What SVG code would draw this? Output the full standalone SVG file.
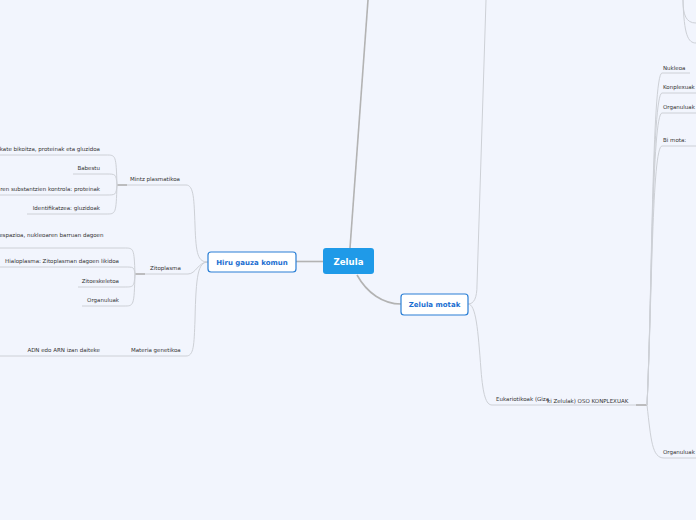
<svg xmlns="http://www.w3.org/2000/svg" width="696" height="520" viewBox="0 0 696 520">
<style>
.bg{fill:#f2f5fd}
.c{fill:none;stroke:#cdd0d6;stroke-width:1}
.cm{fill:none;stroke:#b3b3b3;stroke-width:1.6}
.t{font-family:"DejaVu Sans",Verdana,sans-serif;font-size:5.5px;fill:#333}
.nb{fill:#fff;stroke:#2a7fd6;stroke-width:1.2}
.nt{font-family:"DejaVu Sans",Verdana,sans-serif;font-size:7px;font-weight:bold;fill:#1b6ed1;text-anchor:middle}
.r{text-anchor:end}
</style>
<rect class="bg" x="0" y="0" width="696" height="520"/>
<g id="connectors">
<path class="cm" d="M350,248 L368,0"/>
<path class="cm" d="M296,261.5 L323,261.5"/>
<path class="cm" d="M357,275 C367,293 383,304 401,304"/>
<path class="c" d="M468,304 C474,304 477,298 477,285 L486,0"/>
<path class="c" d="M468,304 C476,304 478,330 481,370 C483,395 486,405 492,405 L647,405"/>
<path class="cm" d="M636,405 L647,405"/>
<path class="c" d="M647,405 C652,300 652,73 662,73 L690,73"/>
<path class="c" d="M647,405 C652,300 652,93 662,93 L696,93"/>
<path class="c" d="M647,405 C652,300 652,113 662,113 L696,113"/>
<path class="c" d="M647,405 C652,300 652,146 662,146 L696,146"/>
<path class="c" d="M647,405 C651,440 652,458 664,458 L696,458"/>
<path class="c" d="M683,0 C683,15 686,23 696,23"/>
<path class="c" d="M683,0 C684,35 688,43 696,43"/>
<path class="c" d="M208,262 C198,262 196,255 195,225 C194,200 194,185 186,185 L117,185"/>
<path class="cm" d="M117,185 L127,185"/>
<path class="c" d="M208,262 C198,262 196,274 188,274 L135,274"/>
<path class="cm" d="M135,274 L145,274"/>
<path class="c" d="M208,262 C198,262 196,275 195,320 C194,345 194,356 186,356 L0,356"/>
<path class="c" d="M117,185 C116,155 116,155 106,155 L0,155"/>
<path class="c" d="M117,185 C116,174 116,174 106,174 L73,174"/>
<path class="c" d="M117,185 C116,195 116,195 106,195 L0,195"/>
<path class="c" d="M117,185 C116,214 116,214 106,214 L27,214"/>
<path class="c" d="M135,274 C134,248 134,248 124,248 L0,248"/>
<path class="c" d="M135,274 C134,267 134,267 124,267 L0,267"/>
<path class="c" d="M135,274 C134,287 134,287 124,287 L78,287"/>
<path class="c" d="M135,274 C134,306 134,306 124,306 L82,306"/>
</g>
<g id="zelula">
<rect x="323" y="248" width="51" height="26" rx="3" fill="#1f9ae8"/>
<text x="348.5" y="264.5" font-family="DejaVu Sans,Verdana,sans-serif" font-size="8.6" font-weight="bold" fill="#fff" text-anchor="middle">Zelula</text>
</g>
<g id="hiru">
<rect class="nb" x="208" y="252" width="88" height="20" rx="3"/>
<text class="nt" x="252" y="264.5">Hiru gauza komun</text>
</g>
<g id="motak">
<rect class="nb" x="401" y="294" width="67" height="21" rx="3"/>
<text class="nt" x="434.5" y="307">Zelula motak</text>
</g>
<g id="mintz"><text class="t" x="130" y="181">Mintz plasmatikoa</text></g>
<g id="mintz1"><text class="t r" x="100" y="151">kate bikoitza, proteinak eta gluzidoa</text></g>
<g id="mintz2"><text class="t r" x="100" y="170">Babestu</text></g>
<g id="mintz3"><text class="t r" x="100" y="191">ren substantzien kontrola: proteinak</text></g>
<g id="mintz4"><text class="t r" x="100" y="210">Identifikatzea: gluzidoak</text></g>
<g id="zito"><text class="t" x="150" y="270">Zitoplasma</text></g>
<g id="zito0"><text class="t r" x="103.5" y="237">espazioa, nukleoaren barruan dagoen</text></g>
<g id="zito1"><text class="t r" x="119" y="263">Hialoplasma: Zitoplasman dagoen likidoa</text></g>
<g id="zito2"><text class="t r" x="119" y="283">Zitoeskeletoa</text></g>
<g id="zito3"><text class="t r" x="119" y="302">Organuluak</text></g>
<g id="materia"><text class="t" x="131" y="352">Materia genetikoa</text></g>
<g id="adn"><text class="t r" x="100" y="352">ADN edo ARN izan daiteke</text></g>
<g id="euka"><text class="t" x="496" y="401">Eukariotikoak (Giza</text><text class="t" x="547" y="402.5">ki Zelulak) OSO KONPLEXUAK</text></g>
<g id="nukleoa"><text class="t" x="663" y="69.5">Nukleoa</text></g>
<g id="konplexuak"><text class="t" x="663" y="89">Konplexuak</text></g>
<g id="organuluak1"><text class="t" x="663" y="109">Organuluak</text></g>
<g id="bimota"><text class="t" x="663" y="142">Bi mota:</text></g>
<g id="organuluak2"><text class="t" x="663" y="454">Organuluak</text></g>
</svg>
